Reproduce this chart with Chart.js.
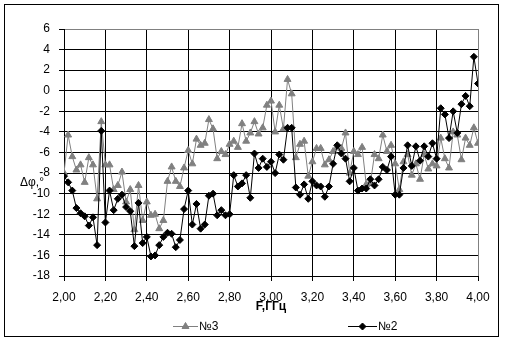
<!DOCTYPE html>
<html>
<head>
<meta charset="utf-8">
<script src="https://cdn.jsdelivr.net/npm/chart.js@4.4.1/dist/chart.umd.min.js"></script>
<style>
  html, body { margin: 0; padding: 0; background: #fff; }
  #wrap { width: 505px; height: 343px; }
</style>
</head>
<body>
<div id="wrap"><canvas id="phaseChart" width="505" height="343"></canvas></div>
<script>
// частоты, ГГц
const freqs = [
  2.00, 2.02, 2.04, 2.06, 2.08, 2.10, 2.12, 2.14, 2.16, 2.18,
  2.20, 2.22, 2.24, 2.26, 2.28, 2.30, 2.32, 2.34, 2.36, 2.38,
  2.40, 2.42, 2.44, 2.46, 2.48, 2.50, 2.52, 2.54, 2.56, 2.58,
  2.60, 2.62, 2.64, 2.66, 2.68, 2.70, 2.72, 2.74, 2.76, 2.78,
  2.80, 2.82, 2.84, 2.86, 2.88, 2.90, 2.92, 2.94, 2.96, 2.98,
  3.00, 3.02, 3.04, 3.06, 3.08, 3.10, 3.12, 3.14, 3.16, 3.18,
  3.20, 3.22, 3.24, 3.26, 3.28, 3.30, 3.32, 3.34, 3.36, 3.38,
  3.40, 3.42, 3.44, 3.46, 3.48, 3.50, 3.52, 3.54, 3.56, 3.58,
  3.60, 3.62, 3.64, 3.66, 3.68, 3.70, 3.72, 3.74, 3.76, 3.78,
  3.80, 3.82, 3.84, 3.86, 3.88, 3.90, 3.92, 3.94, 3.96, 3.98,
  4.00
];

// №3 (серые треугольники)
const phaseN3 = [
  -8.0, -4.3, -6.4, -7.7, -7.2, -8.9, -6.5, -7.2, -10.5, -3.0,
  -7.2, -7.2, -9.6, -9.2, -7.9, -10.8, -9.6, -13.5, -9.2, -12.6,
  -10.8, -12.1, -12.0, -13.4, -12.6, -8.8, -7.4, -8.8, -9.3, -7.5,
  -5.8, -7.1, -4.7, -5.3, -5.1, -2.8, -3.7, -6.6, -5.9, -6.2,
  -5.2, -4.9, -5.5, -3.2, -4.9, -4.1, -3.0, -4.2, -3.6, -1.4,
  -1.0, -4.0, -1.4, -3.7, 1.1, -0.3, -6.5, -5.2, -4.9, -8.3,
  -6.9, -5.6, -5.6, -7.2, -6.7, -5.9, -5.5, -5.6, -4.1, -8.0,
  -5.9, -6.2, -5.5, -9.1, -9.0, -6.2, -6.6, -4.3, -5.9, -5.3,
  -7.1, -9.6, -6.9, -6.2, -8.2, -7.1, -8.6, -6.2, -7.6, -7.1,
  -7.3, -4.6, -6.6, -7.5, -4.0, -4.3, -6.7, -4.6, -5.3, -3.6,
  -5.1
];

// №2 (чёрные ромбы)
const phaseN2 = [
  -8.3, -8.9, -9.7, -11.4, -11.9, -12.2, -13.1, -12.3, -15.0, -3.9,
  -12.8, -9.7, -11.6, -10.5, -10.1, -11.3, -11.7, -15.1, -10.9, -14.8,
  -14.2, -16.1, -16.0, -15.0, -14.2, -13.8, -13.9, -15.2, -14.5, -11.5,
  -9.7, -13.0, -11.0, -13.4, -13.0, -10.2, -10.0, -12.1, -11.6, -12.1,
  -12.0, -8.2, -9.3, -9.0, -8.2, -10.4, -6.1, -7.5, -6.6, -7.4,
  -6.9, -8.0, -6.2, -6.7, -3.6, -3.6, -9.4, -10.1, -9.1, -10.5,
  -8.8, -9.2, -9.3, -10.3, -9.3, -7.1, -5.3, -6.1, -6.6, -8.8,
  -7.5, -9.7, -9.5, -9.5, -8.6, -9.2, -8.6, -7.4, -7.7, -6.4,
  -10.1, -10.1, -7.5, -5.3, -7.3, -5.4, -6.8, -5.4, -6.4, -5.1,
  -6.6, -1.7, -2.3, -4.6, -2.0, -4.1, -1.3, -0.5, -1.5, 3.3,
  0.7
];

const seriesLabels = ['№3', '№2'];
const xTitle = 'F,ГГц';
const yTitle = 'Δφ,°';

const GRAY = '#808080';
const FONT = 'Arial, "Liberation Sans", sans-serif';

function toPoints(values) {
  return values.map((v, i) => ({ x: freqs[i], y: v }));
}

// рамка, подписи осей и легенда
const decorPlugin = {
  id: 'decor',
  afterDraw(chart) {
    const ctx = chart.ctx;
    const area = chart.chartArea;
    ctx.save();

    ctx.strokeStyle = '#000';
    ctx.lineWidth = 1;
    ctx.strokeRect(4.5, 4.5, 494, 332);

    ctx.fillStyle = '#000';
    ctx.textBaseline = 'middle';
    ctx.font = 'bold 12px ' + FONT;
    ctx.textAlign = 'center';
    ctx.fillText(xTitle, (area.left + area.right) / 2, 307);

    ctx.font = '12px ' + FONT;
    ctx.textAlign = 'left';
    ctx.fillText(yTitle, 20, 183);

    // легенда
    const items = [
      { ds: chart.data.datasets[0], x0: 173, x1: 198, tx: 199 },
      { ds: chart.data.datasets[1], x0: 348, x1: 377, tx: 378 }
    ];
    const ly = 326.5;
    items.forEach(it => {
      ctx.strokeStyle = it.ds.borderColor;
      ctx.fillStyle = it.ds.pointBackgroundColor;
      ctx.lineWidth = 1;
      ctx.beginPath();
      ctx.moveTo(it.x0, ly);
      ctx.lineTo(it.x1, ly);
      ctx.stroke();
      Chart.helpers.drawPoint(ctx, {
        pointStyle: it.ds.pointStyle,
        radius: it.ds.pointRadius,
        rotation: 0,
        borderWidth: 1
      }, (it.x0 + it.x1) / 2, ly);
      ctx.fillStyle = '#000';
      ctx.fillText(it.ds.label, it.tx, ly);
    });

    ctx.restore();
  }
};

new Chart(document.getElementById('phaseChart'), {
  type: 'scatter',
  data: {
    datasets: [
      {
        label: seriesLabels[0],
        data: toPoints(phaseN3),
        showLine: true,
        borderColor: GRAY,
        borderWidth: 1,
        pointStyle: 'triangle',
        pointRadius: 4,
        pointBackgroundColor: GRAY,
        pointBorderColor: GRAY,
        pointBorderWidth: 1,
        order: 1
      },
      {
        label: seriesLabels[1],
        data: toPoints(phaseN2),
        showLine: true,
        borderColor: '#000',
        borderWidth: 1,
        pointStyle: 'rectRot',
        pointRadius: 3.5,
        pointBackgroundColor: '#000',
        pointBorderColor: '#000',
        pointBorderWidth: 1,
        order: 0
      }
    ]
  },
  options: {
    responsive: false,
    animation: false,
    devicePixelRatio: 1,
    layout: {
      padding: { left: 0, top: 29, right: 27, bottom: 0 }
    },
    plugins: {
      legend: { display: false },
      tooltip: { enabled: false }
    },
    scales: {
      x: {
        type: 'linear',
        min: 2,
        max: 4,
        afterFit(scale) { scale.height = 67; },
        grid: {
          color: ctx => (ctx.tick && ctx.tick.value >= 3.999 ? GRAY : '#000'),
          tickColor: '#000',
          tickLength: 5,
          lineWidth: 1
        },
        border: { color: '#000', width: 1 },
        ticks: {
          stepSize: 0.2,
          padding: 9,
          color: '#000',
          font: { family: FONT, size: 12 },
          maxRotation: 0,
          callback: v => Number(v).toFixed(2).replace('.', ',')
        }
      },
      y: {
        type: 'linear',
        min: -18,
        max: 6,
        afterFit(scale) { scale.width = 64; },
        grid: {
          color: ctx => (ctx.tick && ctx.tick.value === 6 ? GRAY : '#000'),
          tickColor: '#000',
          tickLength: 5,
          lineWidth: 1
        },
        border: { color: '#000', width: 1 },
        ticks: {
          stepSize: 2,
          padding: 9,
          color: '#000',
          font: { family: FONT, size: 12 },
          callback: v => String(v)
        }
      }
    }
  },
  plugins: [decorPlugin]
});
</script>
</body>
</html>
